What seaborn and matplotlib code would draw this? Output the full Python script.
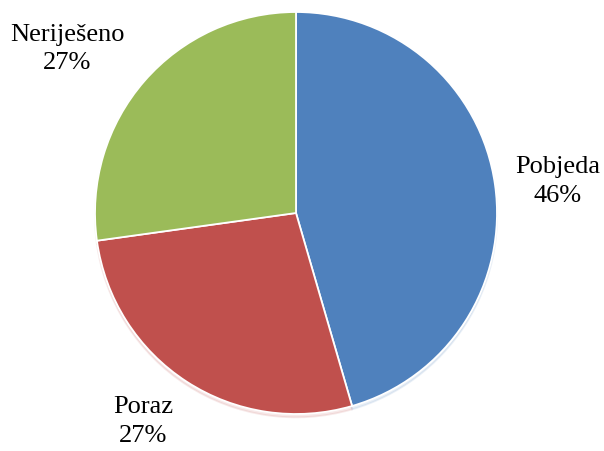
import numpy as np
import matplotlib
matplotlib.use("Agg")
import matplotlib.pyplot as plt
import seaborn as sns

categories = ["Pobjeda", "Poraz", "Neriješeno"]
values = [45.5, 27.3, 27.2]
pct_labels = ["46%", "27%", "27%"]
colors = ["#4F81BD", "#C0504D", "#9BBB59"]

sns.set_theme(style="white")
plt.rcParams['font.family'] = 'serif'
plt.rcParams['font.serif'] = ['Liberation Serif', 'Times New Roman', 'DejaVu Serif']

fig = plt.figure(figsize=(6.04, 4.51), dpi=100)
ax = fig.add_axes([0, 0, 1, 1])
wedges, _ = ax.pie(values, colors=colors, startangle=90, counterclock=False,
                   radius=1.0, wedgeprops=dict(edgecolor="white", linewidth=1.3),
                   shadow=dict(ox=0.0, oy=-0.012, alpha=0.12, shade=0.0))
ax.set_aspect('auto')
cx, cy, R = 296, 213, 201
W, H = 604, 451
ax.set_xlim(-cx / R, (W - cx) / R)
ax.set_ylim(-(H - cy) / R, cy / R)
ax.axis('off')

label_r = [1.31, 1.285, 1.40]
label_dang = [-1.2, -3.3, 5.4]
for w, name, pct, r, da in zip(wedges, categories, pct_labels, label_r, label_dang):
    ang = np.deg2rad((w.theta1 + w.theta2) / 2 + da)
    ax.text(r * np.cos(ang), r * np.sin(ang), f"{name}\n{pct}", ha="center", va="center",
            fontsize=19, color="black", linespacing=1.4)

fig.savefig("out.png", dpi=100)
